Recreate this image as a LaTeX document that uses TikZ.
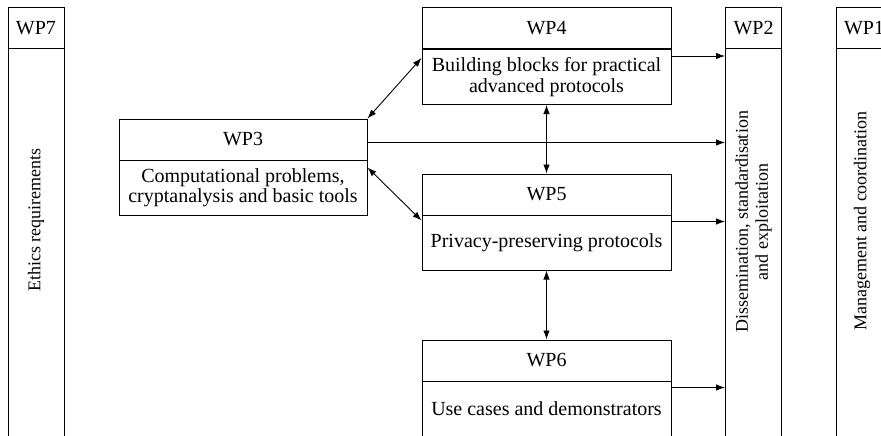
\documentclass[tikz,border=0pt]{standalone}
\usepackage{fontspec}
\setmainfont{Liberation Serif}
\usetikzlibrary{arrows.meta,calc}
\begin{document}
\begin{tikzpicture}[x=1pt,y=-1pt,
  every node/.style={font=\fontsize{20}{20.5}\selectfont},
  box/.style={draw, line width=1pt, rectangle, inner sep=0pt, align=center},
  hdr/.style={box, minimum height=41pt},
  body/.style={box, minimum height=55pt},
  tall/.style={box, minimum width=56pt, minimum height=387pt},
  vlabel/.style={rotate=90, align=center, inner sep=0pt, font=\fontsize{18}{20}\selectfont},
  link/.style={line width=0.9pt, -{Latex[length=9pt,width=6.5pt]}},
  dlink/.style={line width=0.9pt, {Latex[length=9pt,width=6.5pt]}-{Latex[length=9pt,width=6.5pt]}}]

\useasboundingbox (0,0) rectangle (881,436);

% side work packages
\node[hdr, minimum width=56pt] (wp7h) at (36,28.5) {WP7};
\node[tall] (wp7b) at (36,242.5) {};
\node[vlabel] (wp7t) at (36,220) {Ethics requirements};

\node[hdr, minimum width=56pt] (wp2h) at (753.5,28.5) {WP2};
\node[tall] (wp2b) at (753.5,242.5) {};
\node[vlabel] (wp2t) at (753.5,222) {Dissemination, standardisation\\and exploitation};

\node[hdr, minimum width=56pt] (wp1h) at (864,28.5) {WP1};
\node[tall] (wp1b) at (864,242.5) {};
\node[vlabel] (wp1t) at (862,221) {Management and coordination};

% technical work packages
\node[hdr, minimum width=248pt] (wp3h) at (243,139.5) {WP3};
\node[body, minimum width=248pt] (wp3b) at (243,187.5) {Computational problems,\\cryptanalysis and basic tools};

\node[hdr, minimum width=249pt] (wp4h) at (546.5,28.5) {WP4};
\node[body, minimum width=249pt] (wp4b) at (546.5,77) {Building blocks for practical\\advanced protocols};

\node[hdr, minimum width=249pt] (wp5h) at (546.5,194.5) {WP5};
\node[body, minimum width=249pt] (wp5b) at (546.5,242.5) {Privacy-preserving protocols};

\node[hdr, minimum width=249pt] (wp6h) at (546.5,360.5) {WP6};
\node[body, minimum width=249pt] (wp6b) at (546.5,408.5) {Use cases and demonstrators};

% dependencies
\draw[dlink] (wp3h.north east) -- ($(wp4b.north west)+(0,9)$);
\draw[dlink] ($(wp3b.north east)+(0,8)$) -- ($(wp5b.north west)+(0,6)$);
\draw[dlink] (wp4b.south) -- (wp5h.north);
\draw[dlink] (wp5b.south) -- (wp6h.north);

% results feeding dissemination
\draw[link] ($(wp3h.east)+(0,3)$) coordinate (o3) -- (o3 -| wp2b.west);
\draw[link] ($(wp4b.north east)+(0,7)$) coordinate (o4) -- (o4 -| wp2b.west);
\draw[link] ($(wp5b.north east)+(0,7)$) coordinate (o5) -- (o5 -| wp2b.west);
\draw[link] ($(wp6b.north east)+(0,7)$) coordinate (o6) -- (o6 -| wp2b.west);
\end{tikzpicture}
\end{document}
